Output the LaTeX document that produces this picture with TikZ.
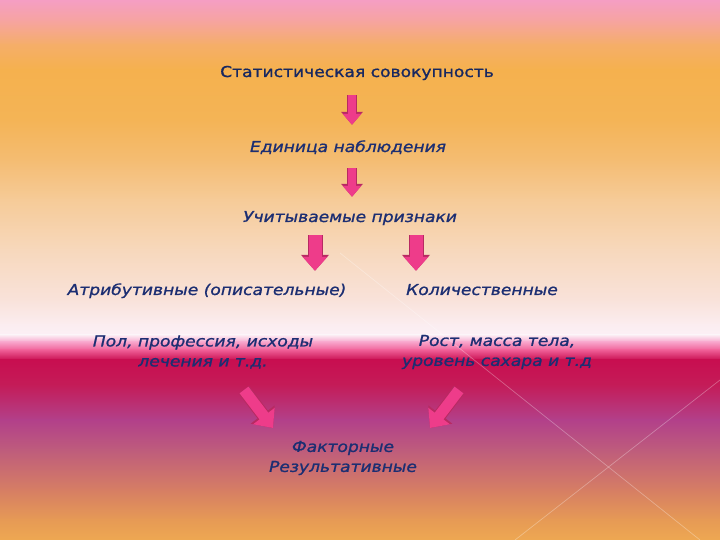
\documentclass[tikz,border=0pt]{standalone}
\usepackage{fontspec}
\setmainfont{DejaVu Sans}[FakeStretch=1.15]
\newfontfamily\lblfont{DejaVu Sans}[FakeStretch=1.14, FakeBold=1.1]
\usetikzlibrary{arrows.meta}
\definecolor{txt}{HTML}{1C2E72}
\definecolor{ttl}{HTML}{182860}
\definecolor{apink}{HTML}{EE3C8A}
\definecolor{aedge}{HTML}{B82A62}
\definecolor{bgA}{HTML}{F59EC4}
\definecolor{bgB}{HTML}{F6A49E}
\definecolor{bgC}{HTML}{F5AE68}
\definecolor{bgD}{HTML}{F5B14E}
\definecolor{bgE}{HTML}{F4B456}
\definecolor{bgF}{HTML}{F4BC72}
\definecolor{bgG}{HTML}{F6CB98}
\definecolor{bgH}{HTML}{F7D8BC}
\definecolor{bgI}{HTML}{F9E2DA}
\definecolor{bgJ}{HTML}{FBEDF0}
\definecolor{bgK}{HTML}{FCF0F6}
\definecolor{bgL}{HTML}{F8A6CC}
\definecolor{bgM}{HTML}{F06098}
\definecolor{bgN}{HTML}{C80E50}
\definecolor{bgO}{HTML}{C41C58}
\definecolor{bgP}{HTML}{B2408A}
\definecolor{bgQ}{HTML}{BE5C7C}
\definecolor{bgR}{HTML}{D67E64}
\definecolor{bgS}{HTML}{E69A55}
\definecolor{bgT}{HTML}{EEA852}
\begin{document}
\begin{tikzpicture}[x=1pt,y=1pt,
  lbl/.style={text=ttl, font=\lblfont\fontsize{15}{20}\selectfont, inner sep=2pt, text height=11pt, text depth=3pt},
  ilbl/.style={lbl, text=txt, font=\lblfont\fontsize{15}{20}\selectfont\itshape},
  mlbl/.style={text=txt, font=\lblfont\fontsize{15}{20}\selectfont\itshape, inner sep=2pt, align=center},
  barrowA/.style={preaction={draw=aedge, line width=10pt, -{Triangle[width=21pt,length=13pt]}},
                  draw=apink, line width=8pt, -{Triangle[width=18pt,length=11pt,fill=apink]}},
  barrowB/.style={preaction={draw=aedge, line width=15pt, -{Triangle[width=27pt,length=16pt]}},
                  draw=apink, line width=13pt, -{Triangle[width=24pt,length=14pt,fill=apink]}},
  barrowC/.style={preaction={draw=aedge, line width=13pt, -{Triangle[width=29pt,length=17pt]}},
                  draw=apink, line width=11pt, -{Triangle[width=26pt,length=15pt,fill=apink]}},
  faint/.style={draw=white, opacity=0.3, line width=0.7pt}
]
\useasboundingbox (0,0) rectangle (720,540);
% background
\foreach \ya/\ca/\yb/\cb in {0/bgA/22/bgB, 22/bgB/45/bgC, 45/bgC/70/bgD, 70/bgD/120/bgE,
  120/bgE/160/bgF, 160/bgF/200/bgG, 200/bgG/250/bgH, 250/bgH/300/bgI, 300/bgI/325/bgJ,
  325/bgJ/335/bgK, 335/bgK/342/bgL, 342/bgL/350/bgM, 350/bgM/360/bgN, 360/bgN/385/bgO,
  385/bgO/420/bgP, 420/bgP/450/bgQ, 450/bgQ/490/bgR, 490/bgR/520/bgS, 520/bgS/540/bgT}
  \shade[top color=\ca, bottom color=\cb] (0,{540-\ya+0.4}) rectangle (720,{540-\yb-0.4});
\draw[faint] (340,{540-253}) -- (700,{540-540});
\draw[faint] (720,{540-380}) -- (515,{540-540});

% texts
\node[lbl]  (t)  at (357,{540-73})  {Статистическая совокупность};
\node[ilbl] (e)  at (348,{540-148}) {Единица наблюдения};
\node[ilbl] (u)  at (350,{540-218}) {Учитываемые признаки};
\node[ilbl] (at) at (207,{540-291}) {Атрибутивные (описательные)};
\node[ilbl] (k)  at (482,{540-291}) {Количественные};
\node[mlbl] (pl) at (203,{540-352}) {Пол, профессия, исходы\\лечения и т.д.};
\node[mlbl] (pr) at (497,{540-352}) {Рост, масса тела,\\уровень сахара и т.д};
\node[mlbl] (f)  at (343,{540-458}) {Факторные\\Результативные};

% arrows
\coordinate (xa) at (352,0);
\coordinate (xl) at (315,0);
\coordinate (xr) at (416,0);
\draw[barrowA, shorten <=13pt, shorten >=14pt] (t.south -| xa) -- (e.north -| xa);
\draw[barrowA, shorten <=11pt, shorten >=12pt] (e.south -| xa) -- (u.north -| xa);
\draw[barrowB, shorten <=8pt, shorten >=11pt] (u.south -| xl) -- (at.north -| xl);
\draw[barrowB, shorten <=8pt, shorten >=11pt] (u.south -| xr) -- (k.north -| xr);
\coordinate (dls) at (244,{540-390});
\coordinate (dle) at (273,{540-428});
\coordinate (drs) at (459,{540-390});
\coordinate (dre) at (430,{540-428});
\draw[barrowC] (dls) -- (dle);
\draw[barrowC] (drs) -- (dre);
\end{tikzpicture}
\end{document}
